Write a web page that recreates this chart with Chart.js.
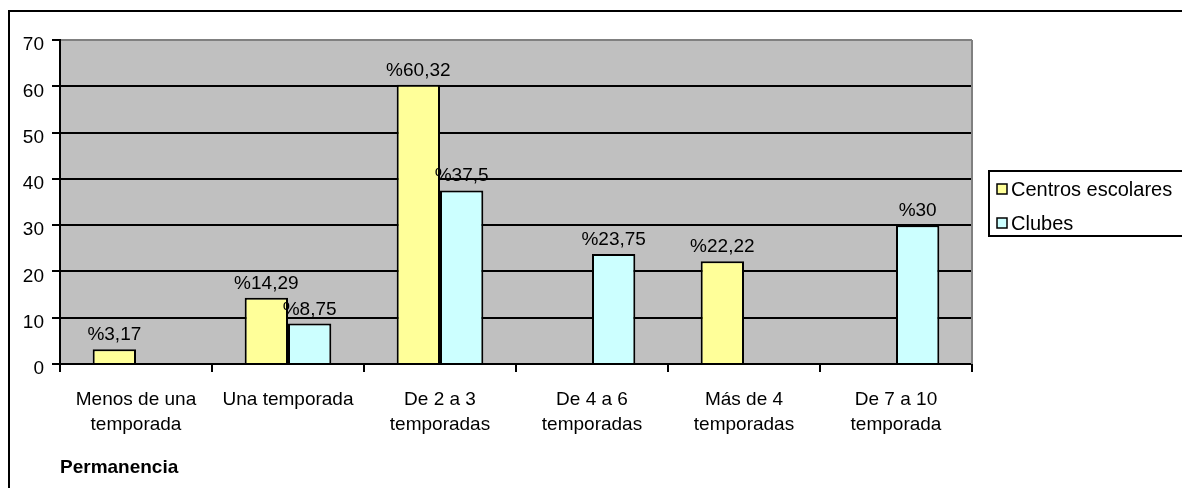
<!DOCTYPE html>
<html>
<head>
<meta charset="utf-8">
<script src="https://cdn.jsdelivr.net/npm/chart.js@4"></script>
<style>
  body { margin: 0; background: #fff; }
  canvas { display: block; }
</style>
</head>
<body>
<canvas id="myChart" width="1182" height="488"></canvas>
<script>
const categories = [
  ['Menos de una', 'temporada'],
  'Una temporada',
  ['De 2 a 3', 'temporadas'],
  ['De 4 a 6', 'temporadas'],
  ['Más de 4', 'temporadas'],
  ['De 7 a 10', 'temporada']
];
const centrosEscolares = [3.17, 14.29, 60.32, null, 22.22, null];
const clubes = [null, 8.75, 37.5, 23.75, null, 30];
const yTicks = [0, 10, 20, 30, 40, 50, 60, 70];

Chart.defaults.font.family = '"Liberation Sans", Arial, sans-serif';
Chart.defaults.font.size = 19;
Chart.defaults.color = '#000';

// gray plot background, gray top/right edges, outer frame
const plotBg = {
  id: 'plotBg',
  beforeDraw(chart) {
    const c = chart.ctx, a = chart.chartArea;
    c.save();
    c.fillStyle = '#fff';
    c.fillRect(0, 0, chart.width, chart.height);
    c.fillStyle = '#c0c0c0';
    c.fillRect(a.left, a.top, a.right - a.left, a.bottom - a.top);
    c.strokeStyle = '#000';
    c.lineWidth = 2;
    c.beginPath();
    c.moveTo(9, chart.height + 5);
    c.lineTo(9, 11);
    c.lineTo(chart.width + 5, 11);
    c.stroke();
    c.restore();
  },
  afterDraw(chart) {
    const c = chart.ctx, a = chart.chartArea;
    c.save();
    c.strokeStyle = '#808080';
    c.lineWidth = 2;
    c.beginPath();
    c.moveTo(a.right, a.top);
    c.lineTo(a.right, a.bottom);
    c.stroke();
    c.restore();
  }
};

const valueLabels = {
  id: 'valueLabels',
  afterDatasetsDraw(chart) {
    const c = chart.ctx;
    c.save();
    c.font = '19px "Liberation Sans", Arial, sans-serif';
    c.fillStyle = '#000';
    c.textAlign = 'center';
    c.textBaseline = 'alphabetic';
    chart.data.datasets.forEach((ds, i) => {
      chart.getDatasetMeta(i).data.forEach((bar, j) => {
        const v = ds.data[j];
        if (v === null) return;
        c.fillText('%' + String(v).replace('.', ','), bar.x, bar.y - 9);
      });
    });
    c.restore();
  }
};

const boxLegend = {
  id: 'boxLegend',
  afterDraw(chart) {
    const c = chart.ctx;
    c.save();
    c.strokeStyle = '#000';
    c.lineWidth = 2;
    c.strokeRect(989, 171, 250, 65);
    c.font = '20px "Liberation Sans", Arial, sans-serif';
    c.textBaseline = 'middle';
    c.textAlign = 'left';
    const rows = [189, 223];
    chart.data.datasets.forEach((ds, i) => {
      const y = rows[i];
      c.fillStyle = ds.backgroundColor;
      c.fillRect(997, y - 5, 10, 10);
      c.lineWidth = 1.5;
      c.strokeRect(997, y - 5, 10, 10);
      c.fillStyle = '#000';
      c.fillText(ds.label, 1011, y + 1);
    });
    c.restore();
  }
};

const ctx = document.getElementById('myChart');

const myChart = new Chart(ctx, {
  type: 'bar',
  data: {
    labels: categories,
    datasets: [{
      label: 'Centros escolares',
      data: centrosEscolares,
      backgroundColor: '#ffff99',
      borderColor: '#000',
      borderWidth: 2
    }, {
      label: 'Clubes',
      data: clubes,
      backgroundColor: '#ccffff',
      borderColor: '#000',
      borderWidth: 2
    }]
  },
  options: {
    responsive: false,
    animation: false,
    categoryPercentage: 0.57,
    barPercentage: 1,
    layout: {
      padding: { left: 0, top: 40, right: 210, bottom: 0 }
    },
    plugins: {
      legend: { display: false },
      tooltip: { enabled: false }
    },
    scales: {
      x: {
        afterFit(scale) { scale.height = 124; },
        grid: {
          offset: true,
          drawOnChartArea: false,
          color: '#000',
          lineWidth: 2,
          tickLength: 8
        },
        border: { color: '#000', width: 2 },
        ticks: {
          padding: 15,
          maxRotation: 0,
          autoSkip: false,
          font: { size: 19, lineHeight: 1.32 }
        },
        title: {
          display: true,
          text: 'Permanencia',
          align: 'start',
          font: { size: 19, weight: 'bold', lineHeight: 1.2 },
          padding: { top: 0, bottom: 9 }
        }
      },
      y: {
        min: 0,
        max: 70,
        afterFit(scale) { scale.width = 60; },
        afterBuildTicks(scale) {
          scale.ticks = yTicks.map(v => ({ value: v }));
        },
        grid: {
          color: (c) => c.tick && c.tick.value === 70 ? '#808080' : '#000',
          tickColor: '#000',
          lineWidth: 2,
          tickLength: 8
        },
        border: { color: '#000', width: 2 },
        ticks: {
          padding: 8,
          labelOffset: 5,
          font: { size: 19 }
        }
      }
    }
  },
  plugins: [plotBg, valueLabels, boxLegend]
});
</script>
</body>
</html>
